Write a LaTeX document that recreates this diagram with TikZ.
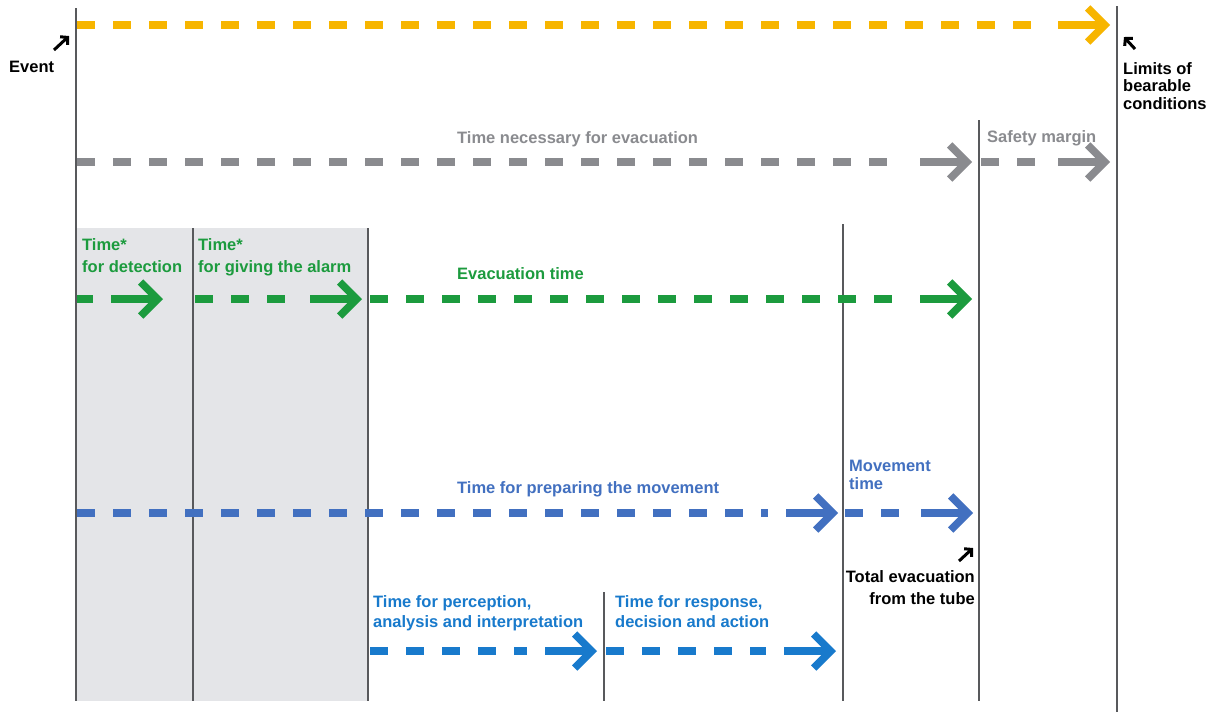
\documentclass[tikz,border=0pt]{standalone}
\usepackage{fontspec}
\setmainfont{Liberation Sans}
\usetikzlibrary{arrows.meta}

\definecolor{limYellow}{RGB}{247,181,0}
\definecolor{needGray}{RGB}{138,139,143}
\definecolor{evacGreen}{RGB}{28,155,62}
\definecolor{prepBlue}{RGB}{66,112,192}
\definecolor{actBlue}{RGB}{24,122,204}
\definecolor{lineGray}{RGB}{88,89,92}
\definecolor{boxGray}{RGB}{228,229,232}

\begin{document}
\begin{tikzpicture} [
        x=1pt, y=-1pt,
        vline/.style={draw=lineGray, line width=2pt},
        tdash/.style={line width=7.5pt, dash pattern=on 18pt off 18pt},
        thead/.style={line width=7.5pt, -{Straight Barb[length=17pt,width=34pt]}},
        lbl/.style={font=\bfseries\fontsize{16.5}{17.5}\selectfont, inner sep=0pt, align=left},
        ptr/.style={line width=3pt, -{Straight Barb[length=5pt,width=11pt]}} ]
    \fill[white] (0,0) rectangle (1217,713);
    \useasboundingbox (0,0) rectangle (1217,713);
    \fill[boxGray] (76,228) rectangle (368,701);
    % time marks
    \draw[vline] (76,8) -- (76,701);
    \draw[vline] (193,228) -- (193,701);
    \draw[vline] (368,228) -- (368,701);
    \draw[vline] (604,592) -- (604,701);
    \draw[vline] (843,224) -- (843,701);
    \draw[vline] (979,120) -- (979,701);
    \draw[vline] (1117,6) -- (1117,712);
    % arrow ends
    \coordinate (y0) at (77,25);   \coordinate (y1) at (1110,25);
    \coordinate (g0) at (77,162);  \coordinate (g1) at (972,162);
    \coordinate (g2) at (981,162); \coordinate (g3) at (1110,162);
    \coordinate (n0) at (77,299);  \coordinate (n1) at (163,299);
    \coordinate (n2) at (195,299); \coordinate (n3) at (362,299);
    \coordinate (n4) at (370,299); \coordinate (n5) at (972,299);
    \coordinate (m0) at (77,513);  \coordinate (m1) at (838,513);
    \coordinate (m2) at (845,513); \coordinate (m3) at (973,513);
    \coordinate (p0) at (370,651); \coordinate (p1) at (597,651);
    \coordinate (p2) at (606,651); \coordinate (p3) at (836,651);
    \draw[tdash, limYellow] (y0) -- ([xshift=-70pt]y1); \draw[thead, limYellow] ([xshift=-52pt]y1) -- (y1);
    \draw[tdash, needGray] (g0) -- ([xshift=-70pt]g1);  \draw[thead, needGray] ([xshift=-52pt]g1) -- (g1);
    \draw[tdash, needGray] (g2) -- ([xshift=-70pt]g3);  \draw[thead, needGray] ([xshift=-52pt]g3) -- (g3);
    \draw[tdash, evacGreen] (n0) -- ([xshift=-70pt]n1); \draw[thead, evacGreen] ([xshift=-52pt]n1) -- (n1);
    \draw[tdash, evacGreen] (n2) -- ([xshift=-70pt]n3); \draw[thead, evacGreen] ([xshift=-52pt]n3) -- (n3);
    \draw[tdash, evacGreen] (n4) -- ([xshift=-70pt]n5); \draw[thead, evacGreen] ([xshift=-52pt]n5) -- (n5);
    \draw[tdash, prepBlue] (m0) -- ([xshift=-70pt]m1);  \draw[thead, prepBlue] ([xshift=-52pt]m1) -- (m1);
    \draw[tdash, prepBlue] (m2) -- ([xshift=-70pt]m3);  \draw[thead, prepBlue] ([xshift=-52pt]m3) -- (m3);
    \draw[tdash, actBlue] (p0) -- ([xshift=-70pt]p1);   \draw[thead, actBlue] ([xshift=-52pt]p1) -- (p1);
    \draw[tdash, actBlue] (p2) -- ([xshift=-70pt]p3);   \draw[thead, actBlue] ([xshift=-52pt]p3) -- (p3);
    % labels
    \node[lbl, anchor=base west] (event) at (9,72) {Event};
    \node[lbl, anchor=north west] (limits) at (1123,62) {Limits of\\bearable\\conditions};
    \node[lbl, anchor=base west, text=needGray] (need) at (457,143) {Time necessary for evacuation};
    \node[lbl, anchor=base west, text=needGray] (margin) at (987,142) {Safety margin};
    \node[lbl, anchor=north west, text=evacGreen] (detect) at (82,238) {Time*\\[4.5pt]for detection};
    \node[lbl, anchor=north west, text=evacGreen] (alarm) at (198,238) {Time*\\[4.5pt]for giving the alarm};
    \node[lbl, anchor=base west, text=evacGreen] (evac) at (457,279) {Evacuation time};
    \node[lbl, anchor=base west, text=prepBlue] (prep) at (457,493) {Time for preparing the movement};
    \node[lbl, anchor=north west, text=prepBlue] (move) at (849,460) {Movement\\[0.5pt]time};
    \node[lbl, anchor=north east, align=right] (total) at (975,570) {Total evacuation\\[4.5pt]from the tube};
    \node[lbl, anchor=north west, text=actBlue] (percep) at (373,595) {Time for perception,\\[2.5pt]analysis and interpretation};
    \node[lbl, anchor=north west, text=actBlue] (resp) at (615,595) {Time for response,\\[2.5pt]decision and action};
    % pointers
    \coordinate (e1) at (69,36);    \draw[ptr] ([shift={(-15,14)}]e1) -- (e1);
    \coordinate (l1) at (1124,37);  \draw[ptr] ([shift={(11,12)}]l1) -- (l1);
    \coordinate (t1) at (973,548);  \draw[ptr] ([shift={(-14,13)}]t1) -- (t1);
\end{tikzpicture}
\end{document}
